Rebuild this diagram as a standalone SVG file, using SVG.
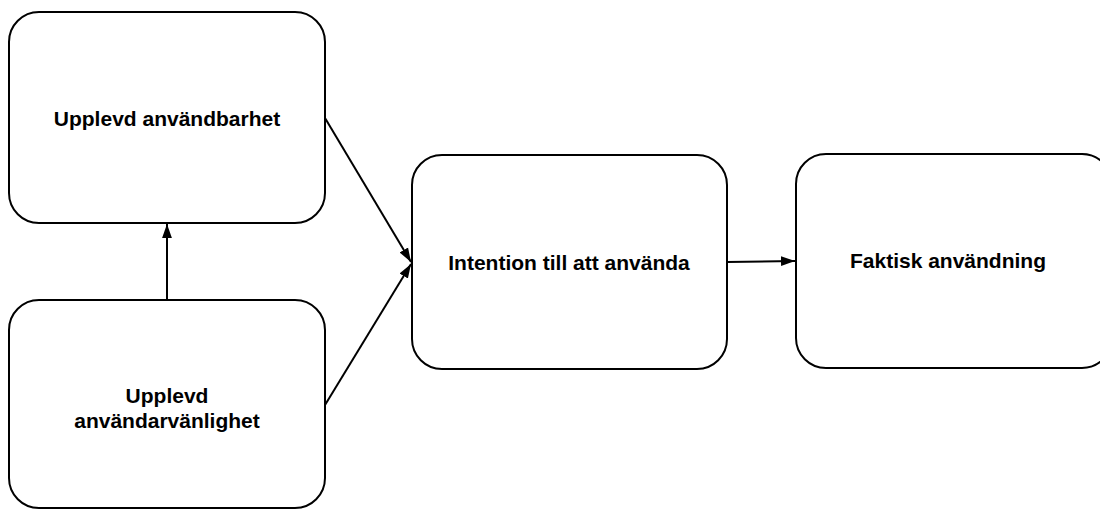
<svg xmlns="http://www.w3.org/2000/svg" width="1100" height="510" viewBox="0 0 1100 510">
<defs>
<style>
.box{fill:#fff;stroke:#000;stroke-width:2}
.lbl{font-family:"Liberation Sans",Arial,sans-serif;font-weight:bold;font-size:21px;fill:#000;text-anchor:middle}
.con{stroke:#000;stroke-width:2;fill:none;marker-end:url(#ah)}
</style>
<marker id="ah" viewBox="0 0 10 10" refX="10" refY="5" markerWidth="7" markerHeight="7" markerUnits="strokeWidth" orient="auto">
<path d="M0,1.5 L10,5 L0,8.5 Z" fill="#000"/>
</marker>
</defs>
<rect width="1100" height="510" fill="#fff"/>
<g id="n1"><rect class="box" x="9" y="12" width="316" height="211" rx="30"/><text class="lbl" x="167" y="126">Upplevd användbarhet</text></g>
<g id="n2"><rect class="box" x="9" y="300" width="316" height="208" rx="30"/><text class="lbl" x="167" y="403">Upplevd</text><text class="lbl" x="167" y="428">användarvänlighet</text></g>
<g id="n3"><rect class="box" x="412" y="155" width="315" height="214" rx="30"/><text class="lbl" x="569" y="270">Intention till att använda</text></g>
<g id="n4"><rect class="box" x="796" y="154" width="316" height="214" rx="30"/><text class="lbl" x="948" y="268">Faktisk användning</text></g>
<g id="connectors">
<line class="con" x1="167" y1="300" x2="167" y2="224"/>
<line class="con" x1="325" y1="118" x2="411" y2="262"/>
<line class="con" x1="325" y1="405" x2="411" y2="264"/>
<line class="con" x1="727" y1="262" x2="795" y2="261"/>
</g>
</svg>
